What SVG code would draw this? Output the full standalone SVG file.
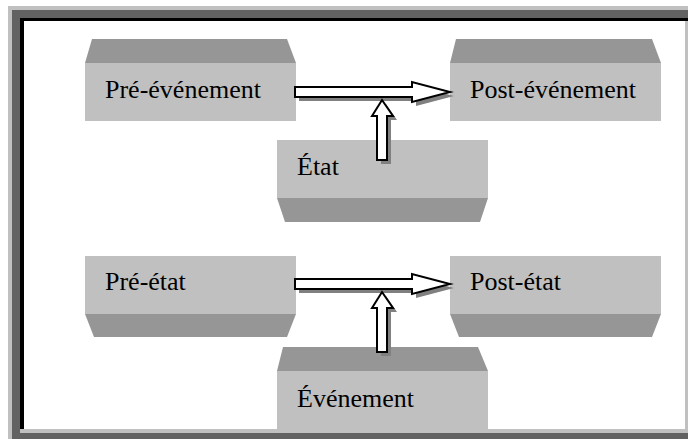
<svg xmlns="http://www.w3.org/2000/svg" width="688" height="439" viewBox="0 0 688 439">
  <style>
    .face { fill: #c0c0c0; }
    .side { fill: #969696; }
    .lbl { font-family: "Liberation Serif", "Times New Roman", serif; font-size: 26px; fill: #000; }
    .arrow { fill: #fff; stroke: #000; stroke-width: 2; stroke-linejoin: miter; }
    .shadow { fill: #808080; }
  </style>
  <defs>
    <polygon id="harrow" points="0,-5 117,-5 117,-10 155,0 117,10 117,5 0,5"/>
    <polygon id="varrow" points="-5,60 -5,16 -10,16 0,0 11,16 5,16 5,60"/>
  </defs>

  <!-- bevelled frame -->
  <g id="frame">
    <rect x="8" y="6" width="680" height="433" fill="#c0c0c0"/>
    <rect x="12" y="10" width="676" height="8" fill="#626262"/>
    <rect x="12" y="10" width="8" height="429" fill="#626262"/>
    <rect x="12" y="433" width="676" height="6" fill="#626262"/>
    <rect x="20" y="18" width="668" height="3" fill="#000"/>
    <rect x="20" y="18" width="4" height="411" fill="#000"/>
    <rect x="24" y="21" width="661" height="408" fill="#fff"/>
  </g>

  <g id="pre-evenement">
    <polygon class="side" points="92,39 287,39 296,63 85,63"/>
    <rect class="face" x="85" y="63" width="211" height="58"/>
    <text class="lbl" x="105" y="98">Pré-événement</text>
  </g>

  <g id="post-evenement">
    <polygon class="side" points="456,39 652,39 661,63 450,63"/>
    <rect class="face" x="450" y="63" width="211" height="58"/>
    <text class="lbl" x="470" y="98">Post-événement</text>
  </g>

  <g id="etat">
    <rect class="face" x="277" y="140" width="211" height="58"/>
    <polygon class="side" points="277,198 488,198 480,222 285,222"/>
    <text class="lbl" x="297" y="175">État</text>
  </g>

  <g id="pre-etat">
    <rect class="face" x="85" y="256" width="211" height="58"/>
    <polygon class="side" points="85,314 296,314 287,337 94,337"/>
    <text class="lbl" x="105" y="290">Pré-état</text>
  </g>

  <g id="post-etat">
    <rect class="face" x="450" y="256" width="211" height="58"/>
    <polygon class="side" points="450,314 661,314 652,337 459,337"/>
    <text class="lbl" x="470" y="290">Post-état</text>
  </g>

  <g id="evenement">
    <polygon class="side" points="283,347 478,347 488,371 277,371"/>
    <rect class="face" x="277" y="371" width="211" height="58"/>
    <text class="lbl" x="297" y="407">Événement</text>
  </g>

  <g id="connectors">
    <!-- upper transition -->
    <use href="#harrow" class="shadow" transform="translate(299,96)"/>
    <use href="#harrow" class="arrow" transform="translate(295,92)"/>
    <use href="#varrow" class="shadow" transform="translate(386,104)"/>
    <use href="#varrow" class="arrow" transform="translate(382,100)"/>
    <!-- lower transition -->
    <use href="#harrow" class="shadow" transform="translate(299,288)"/>
    <use href="#harrow" class="arrow" transform="translate(295,284)"/>
    <use href="#varrow" class="shadow" transform="translate(386,296)"/>
    <use href="#varrow" class="arrow" transform="translate(382,292)"/>
  </g>
</svg>
